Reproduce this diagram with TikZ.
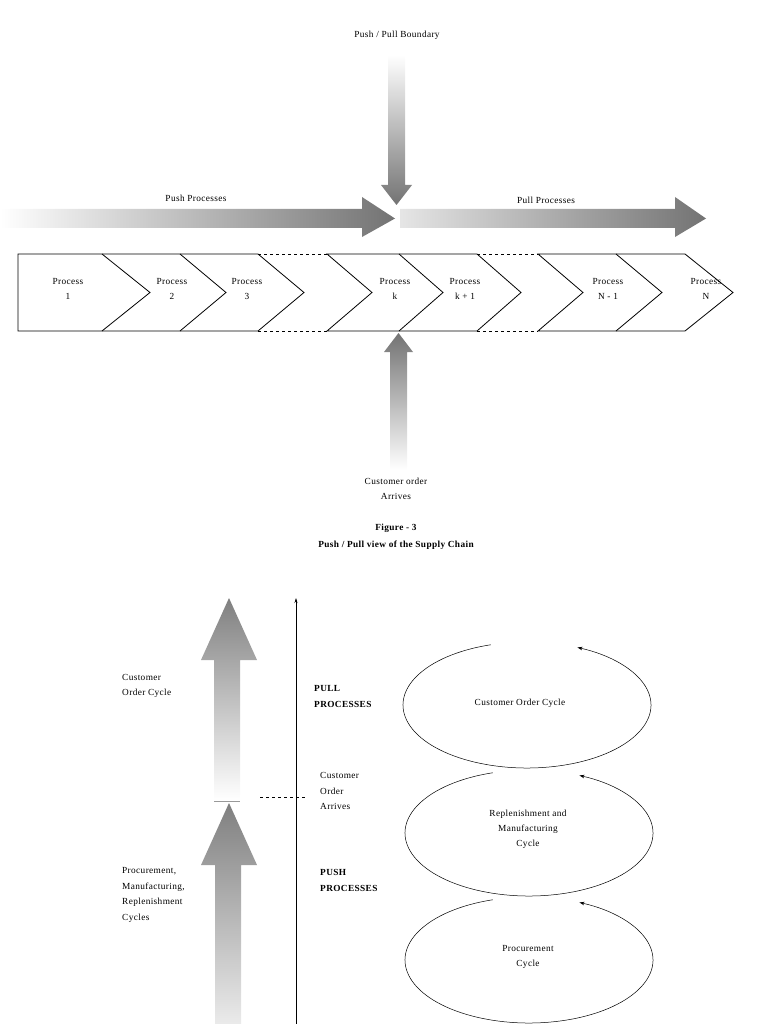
\documentclass[tikz,border=0pt]{standalone}
\usepackage{fontspec}
\setmainfont{Liberation Serif}[LetterSpace=4]
\usetikzlibrary{arrows.meta}
\begin{document}
\begin{tikzpicture}[x=1pt,y=-1pt,
  lbl/.style={font=\fontsize{9.3}{15}\selectfont, align=center, inner sep=0pt},
  lbll/.style={font=\fontsize{9.3}{15.5}\selectfont, align=left, inner sep=0pt, anchor=west},
  bld/.style={font=\fontsize{9.3}{16}\selectfont\bfseries, align=left, inner sep=0pt, anchor=west},
  chev/.style={draw=black, line width=0.8pt, line join=miter},
  cyc/.style={draw=black, line width=0.5pt}]
\useasboundingbox (0,0) rectangle (768,1024);

% ---- upper figure: gradient arrows
\shade[left color=white, right color=black!55] (0,209) -- (362,209) -- (362,197) -- (395,218.5) -- (362,237) -- (362,228) -- (0,228) -- cycle;
\shade[left color=black!10, right color=black!55] (400,209) -- (675,209) -- (675,197) -- (706,218.5) -- (675,237) -- (675,228) -- (400,228) -- cycle;
\shade[top color=white, bottom color=black!55] (388,55) -- (405,55) -- (405,185) -- (412,185) -- (396.5,205) -- (381,185) -- (388,185) -- cycle;
\shade[top color=black!55, bottom color=white] (390,470) -- (407,470) -- (407,352) -- (413,352) -- (398.5,333) -- (384,352) -- (390,352) -- cycle;

% ---- chevron row
\draw[chev] (18,254) -- (102,254) -- (150,292.5) -- (102,331) -- (18,331) -- cycle;
\draw[chev] (102,254) -- (180,254) -- (226,292.5) -- (180,331) -- (102,331);
\draw[chev] (180,254) -- (258,254) -- (304,292.5) -- (258,331) -- (180,331);
\draw[chev] (327,254) -- (399,254) -- (443,292.5) -- (399,331) -- (327,331) -- (372,292.5) -- cycle;
\draw[chev] (399,254) -- (477,254) -- (521,292.5) -- (477,331) -- (399,331);
\draw[chev] (538,254) -- (616,254) -- (662,292.5) -- (616,331) -- (538,331) -- (583,292.5) -- cycle;
\draw[chev] (616,254) -- (685,254) -- (733,292.5) -- (685,331) -- (616,331);
\draw[dashed, line width=0.6pt] (258,254) -- (327,254) (258,331) -- (327,331)
  (477,254) -- (538,254) (477,331) -- (538,331);

\node[lbl] (p1) at (68,289) {Process\\1};
\node[lbl] (p2) at (172,289) {Process\\2};
\node[lbl] (p3) at (247,289) {Process\\3};
\node[lbl] (pk) at (395,289) {Process\\k};
\node[lbl] (pk1) at (465,289) {Process\\k + 1};
\node[lbl] (pn1) at (608,289) {Process\\N - 1};
\node[lbl] (pn) at (706,289) {Process\\N};

\node[lbl] (bound) at (397,35) {Push / Pull Boundary};
\node[lbl] (push) at (196,198) {Push Processes};
\node[lbl] (pull) at (546,200) {Pull Processes};
\node[lbl] (order) at (396,489) {Customer order\\Arrives};
\node[lbl, font=\fontsize{9.3}{17}\selectfont\bfseries] (fig) at (396,537) {Figure - 3\\Push / Pull view of the Supply Chain};

% ---- lower figure
\shade[top color=black!50, bottom color=white] (214,800) -- (214,660) -- (201,660) -- (229,598) -- (257,660) -- (240,660) -- (240,800) -- cycle;
\shade[top color=black!50, bottom color=black!8] (215,1024) -- (215,865) -- (201,865) -- (229,803) -- (257,865) -- (241,865) -- (241,1024) -- cycle;
\draw[black!40, line width=0.5pt] (214,801.5) -- (240,801.5);

\coordinate (axb) at (296,1024);
\coordinate (axt) at (296,598);
\draw[-{Stealth[length=5pt,width=3pt]}, line width=0.6pt] (axb) -- (axt);
\coordinate (dl) at (260,797);
\coordinate (dr) at (305,797);
\draw[dashed, line width=0.9pt] (dl) -- (dr);

\node[lbll] (coc) at (122,686) {Customer\\Order Cycle};
\node[bld] (pullp) at (314,696) {PULL\\PROCESSES};
\node[lbll] (coa) at (320,791) {Customer\\Order\\Arrives};
\node[bld] (pushp) at (320,880) {PUSH\\PROCESSES};
\node[lbll] (pmr) at (122,895) {Procurement,\\Manufacturing,\\Replenishment\\Cycles};

\draw[cyc, -{Stealth[length=5pt,width=3.5pt]}] (527,705) ++(253:124 and 63) arc[start angle=253, end angle=-66, x radius=124, y radius=63];
\draw[cyc, -{Stealth[length=5pt,width=3.5pt]}] (529,833) ++(253:124 and 63) arc[start angle=253, end angle=-66, x radius=124, y radius=63];
\draw[cyc, -{Stealth[length=5pt,width=3.5pt]}] (529,960) ++(253:124 and 63) arc[start angle=253, end angle=-66, x radius=124, y radius=63];

\node[lbl] (c1) at (520,703) {Customer Order Cycle};
\node[lbl] (c2) at (528,829) {Replenishment and\\Manufacturing\\Cycle};
\node[lbl] (c3) at (528,957) {Procurement\\Cycle};
\end{tikzpicture}
\end{document}
